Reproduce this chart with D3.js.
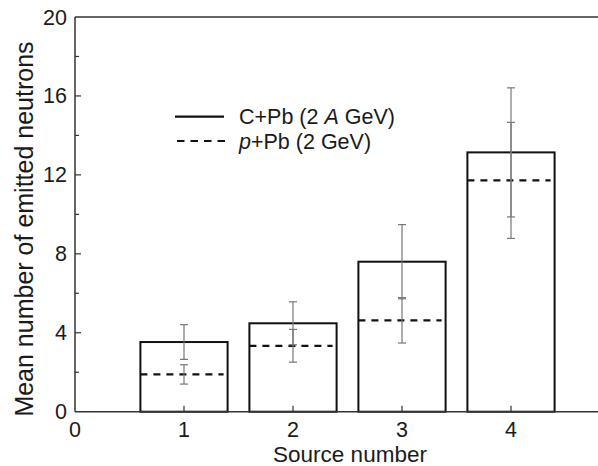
<!DOCTYPE html>
<html>
<head>
  <meta charset="utf8">
  <style type="text/css">
    body { margin: 0; background: #fff; font-family: "Liberation Sans", Arial, sans-serif; }
    svg text { fill: #1a1a1a; }
  </style>
</head>
<body>
<script src="https://d3js.org/d3.v7.min.js"></script>
<script type="text/javascript">
var width = 598, height = 466;

// data
var sources = [1, 2, 3, 4];
var cPb = [3.53, 4.48, 7.6, 13.14];
var cPbErr = [0.88, 1.09, 1.88, 3.27];
var pPb = [1.89, 3.34, 4.63, 11.72];
var pPbErr = [0.49, 0.83, 1.15, 2.94];
var xTicks = [0, 1, 2, 3, 4];
var yTicks = [0, 4, 8, 12, 16, 20];
var yMinor = [2, 6, 10, 14, 18];

var x = d3.scaleLinear().domain([0, 5]).range([75, 620]);
var y = d3.scaleLinear().domain([0, 20]).range([411.7, 17]);
var barW = 0.8;

var svg = d3.select('body').append('svg')
    .attr('width', width)
    .attr('height', height);

// bars (C+Pb)
svg.append('g').selectAll('rect')
  .data(sources)
  .enter().append('rect')
    .attr('x', function(d) { return x(d - barW / 2); })
    .attr('y', function(d, i) { return y(cPb[i]); })
    .attr('width', x(barW) - x(0))
    .attr('height', function(d, i) { return y(0) - y(cPb[i]); })
    .style('fill', 'none')
    .style('stroke', '#111')
    .style('stroke-width', 2);

// dashed levels (p+Pb)
svg.append('g').selectAll('line')
  .data(sources)
  .enter().append('line')
    .attr('x1', function(d) { return x(d - barW / 2); })
    .attr('x2', function(d) { return x(d + barW / 2) - 4; })
    .attr('y1', function(d, i) { return y(pPb[i]); })
    .attr('y2', function(d, i) { return y(pPb[i]); })
    .style('stroke', '#111')
    .style('stroke-width', 2.2)
    .style('stroke-dasharray', '7 6');

// error bars
function errBars(vals, errs) {
  var g = svg.append('g')
    .style('stroke', '#777')
    .style('stroke-width', 1.2);
  sources.forEach(function(s, i) {
    var cx = x(s), lo = y(vals[i] - errs[i]), hi = y(vals[i] + errs[i]);
    g.append('line').attr('x1', cx).attr('x2', cx).attr('y1', lo).attr('y2', hi);
    g.append('line').attr('x1', cx - 4).attr('x2', cx + 4).attr('y1', lo).attr('y2', lo);
    g.append('line').attr('x1', cx - 4).attr('x2', cx + 4).attr('y1', hi).attr('y2', hi);
  });
}
errBars(cPb, cPbErr);
errBars(pPb, pPbErr);

// axes frame
var axisCol = '#333';
svg.append('line').attr('x1', x(0)).attr('x2', width).attr('y1', y(0)).attr('y2', y(0))
  .style('stroke', axisCol).style('stroke-width', 1.5);
svg.append('line').attr('x1', x(0)).attr('x2', width).attr('y1', y(20)).attr('y2', y(20))
  .style('stroke', axisCol).style('stroke-width', 1.5);
svg.append('line').attr('x1', x(0)).attr('x2', x(0)).attr('y1', y(0)).attr('y2', y(20))
  .style('stroke', axisCol).style('stroke-width', 1.5);

// y ticks (inward)
svg.append('g').selectAll('line.maj')
  .data(yTicks.slice(1, -1))
  .enter().append('line')
    .attr('x1', x(0)).attr('x2', x(0) + 6)
    .attr('y1', y).attr('y2', y)
    .style('stroke', axisCol).style('stroke-width', 1.2);
svg.append('g').selectAll('line.min')
  .data(yMinor)
  .enter().append('line')
    .attr('x1', x(0)).attr('x2', x(0) + 4)
    .attr('y1', y).attr('y2', y)
    .style('stroke', axisCol).style('stroke-width', 1.2);
svg.append('g').selectAll('text')
  .data(yTicks)
  .enter().append('text')
    .attr('x', x(0) - 8)
    .attr('y', function(d) { return y(d) + 7.5; })
    .attr('text-anchor', 'end')
    .style('font-size', '21.5px')
    .text(function(d) { return d; });

// x ticks (inward)
svg.append('g').selectAll('line')
  .data(xTicks.slice(1))
  .enter().append('line')
    .attr('x1', x).attr('x2', x)
    .attr('y1', y(0)).attr('y2', y(0) - 6)
    .style('stroke', axisCol).style('stroke-width', 1.2);
svg.append('g').selectAll('text')
  .data(xTicks)
  .enter().append('text')
    .attr('x', x)
    .attr('y', 437)
    .attr('text-anchor', 'middle')
    .style('font-size', '21.5px')
    .text(function(d) { return d; });

// axis titles
svg.append('text')
  .attr('x', 350).attr('y', 462)
  .attr('text-anchor', 'middle')
  .style('font-size', '22.5px')
  .text('Source number');
svg.append('text')
  .attr('transform', 'translate(33,229) rotate(-90)')
  .attr('text-anchor', 'middle')
  .style('font-size', '25px')
  .text('Mean number of emitted neutrons');

// legend
var leg = svg.append('g');
leg.append('line').attr('x1', 175).attr('x2', 224).attr('y1', 116.7).attr('y2', 116.7)
  .style('stroke', '#111').style('stroke-width', 2.2);
leg.append('line').attr('x1', 177).attr('x2', 228).attr('y1', 141).attr('y2', 141)
  .style('stroke', '#111').style('stroke-width', 2.2).style('stroke-dasharray', '7.5 6');
var t1 = leg.append('text').attr('x', 239).attr('y', 124.3).style('font-size', '21.5px');
t1.append('tspan').text('C+Pb (2 ');
t1.append('tspan').style('font-style', 'italic').text('A');
t1.append('tspan').text(' GeV)');
var t2 = leg.append('text').attr('x', 239).attr('y', 148.6).style('font-size', '21.5px');
t2.append('tspan').style('font-style', 'italic').text('p');
t2.append('tspan').text('+Pb (2 GeV)');
</script>
</body>
</html>
